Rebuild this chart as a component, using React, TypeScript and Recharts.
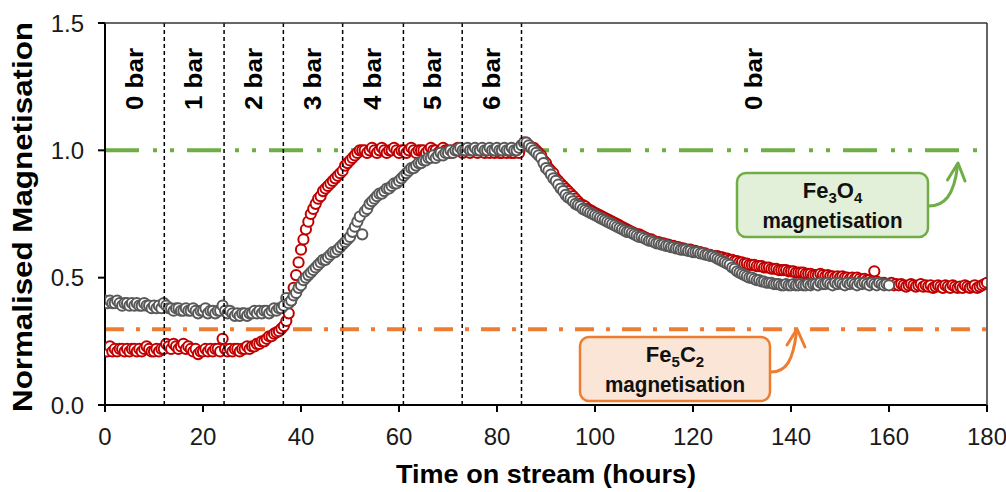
import React from 'react';
import { ScatterChart, Scatter, XAxis, YAxis, ReferenceLine, ReferenceArea } from 'recharts';

// sampling interval of the magnetisation measurements (hours)
const TIME_STEP_HOURS = 0.5;

// red series: normalised magnetisation, t = 0 .. 180 h
const RED_SERIES = [
  0.22, 0.21, 0.23, 0.21, 0.22, 0.21, 0.22, 0.22, 0.21, 0.22,
  0.21, 0.22, 0.22, 0.21, 0.22, 0.21, 0.22, 0.23, 0.22, 0.21,
  0.21, 0.22, 0.21, 0.22, 0.22, 0.24, 0.23, 0.22, 0.24, 0.23,
  0.22, 0.23, 0.24, 0.22, 0.23, 0.22, 0.21, 0.22, 0.20, 0.21,
  0.21, 0.22, 0.21, 0.22, 0.21, 0.22, 0.22, 0.21, 0.26, 0.22,
  0.21, 0.22, 0.21, 0.22, 0.22, 0.21, 0.22, 0.22, 0.23, 0.22,
  0.23, 0.23, 0.24, 0.24, 0.25, 0.25, 0.26, 0.27, 0.27, 0.28,
  0.285, 0.29, 0.30, 0.31, 0.33, 0.36, 0.41, 0.46, 0.51, 0.56,
  0.61, 0.65, 0.69, 0.72, 0.75, 0.77, 0.79, 0.81, 0.82, 0.84,
  0.85, 0.86, 0.87, 0.88, 0.89, 0.90, 0.91, 0.92, 0.94, 0.95,
  0.96, 0.97, 0.98, 0.99, 1.00, 1.00, 1.00, 0.99, 1.00, 1.01,
  1.00, 0.99, 1.00, 1.01, 1.00, 0.99, 1.00, 1.00, 1.01, 1.00,
  0.99, 1.00, 1.00, 0.99, 1.00, 1.01, 1.00, 0.99, 1.00, 1.00,
  1.00, 0.99, 1.00, 1.01, 1.00, 1.00, 0.99, 1.00, 1.01, 1.00,
  1.00, 0.99, 1.00, 1.00, 1.01, 1.00, 0.99, 1.00, 1.00, 0.99,
  1.00, 1.00, 0.99, 1.00, 1.00, 0.99, 1.00, 0.99, 1.00, 0.99,
  1.00, 0.99, 0.99, 1.00, 0.99, 1.00, 0.99, 0.99, 1.00, 0.99,
  1.02, 1.03, 1.03, 1.02, 1.01, 1.01, 1.00, 0.99, 0.98, 0.96,
  0.95, 0.93, 0.92, 0.91, 0.89, 0.88, 0.87, 0.86, 0.85, 0.84,
  0.83, 0.82, 0.81, 0.80, 0.79, 0.785, 0.78, 0.77, 0.765, 0.76,
  0.755, 0.75, 0.745, 0.74, 0.735, 0.73, 0.725, 0.72, 0.715, 0.71,
  0.705, 0.70, 0.695, 0.69, 0.685, 0.68, 0.675, 0.67, 0.67, 0.665,
  0.66, 0.655, 0.65, 0.65, 0.645, 0.64, 0.64, 0.635, 0.635, 0.63,
  0.63, 0.625, 0.625, 0.62, 0.62, 0.615, 0.615, 0.61, 0.61, 0.61,
  0.605, 0.605, 0.60, 0.60, 0.595, 0.595, 0.59, 0.59, 0.585, 0.585,
  0.585, 0.58, 0.58, 0.575, 0.575, 0.57, 0.57, 0.565, 0.565, 0.56,
  0.56, 0.555, 0.555, 0.55, 0.55, 0.55, 0.545, 0.545, 0.545, 0.54,
  0.54, 0.54, 0.535, 0.535, 0.535, 0.53, 0.53, 0.53, 0.53, 0.525,
  0.525, 0.525, 0.52, 0.52, 0.52, 0.52, 0.515, 0.515, 0.515, 0.51,
  0.51, 0.51, 0.515, 0.51, 0.505, 0.51, 0.505, 0.505, 0.50, 0.505,
  0.50, 0.505, 0.50, 0.50, 0.495, 0.50, 0.495, 0.50, 0.495, 0.49,
  0.495, 0.49, 0.49, 0.485, 0.525, 0.485, 0.48, 0.48, 0.48, 0.475,
  0.475, 0.48, 0.47, 0.475, 0.47, 0.475, 0.47, 0.465, 0.47, 0.475,
  0.47, 0.465, 0.47, 0.475, 0.465, 0.47, 0.465, 0.47, 0.46, 0.465,
  0.47, 0.465, 0.46, 0.47, 0.465, 0.46, 0.47, 0.465, 0.46, 0.465,
  0.46, 0.47, 0.465, 0.46, 0.465, 0.47, 0.46, 0.465, 0.47, 0.475,
  0.48,
];

// grey series: normalised magnetisation, t = 0 .. 160 h
const GREY_SERIES = [
  0.41, 0.40, 0.41, 0.40, 0.40, 0.41, 0.40, 0.39, 0.40, 0.40,
  0.39, 0.40, 0.39, 0.40, 0.39, 0.39, 0.40, 0.39, 0.39, 0.38,
  0.39, 0.38, 0.39, 0.38, 0.40, 0.39, 0.38, 0.38, 0.37, 0.38,
  0.38, 0.37, 0.37, 0.38, 0.37, 0.37, 0.38, 0.37, 0.36, 0.37,
  0.37, 0.38, 0.36, 0.37, 0.37, 0.36, 0.37, 0.37, 0.39, 0.37,
  0.36, 0.37, 0.36, 0.35, 0.36, 0.35, 0.36, 0.36, 0.35, 0.36,
  0.36, 0.37, 0.36, 0.37, 0.36, 0.37, 0.37, 0.36, 0.37, 0.38,
  0.37, 0.38, 0.38, 0.39, 0.42, 0.40, 0.41, 0.43, 0.44, 0.46,
  0.47, 0.49, 0.50, 0.51, 0.52, 0.53, 0.54, 0.55, 0.56, 0.57,
  0.57, 0.58, 0.59, 0.60, 0.60, 0.61, 0.62, 0.63, 0.64, 0.65,
  0.66, 0.68, 0.70, 0.72, 0.74, 0.67, 0.76, 0.77, 0.79, 0.80,
  0.81, 0.82, 0.83, 0.83, 0.84, 0.85, 0.85, 0.86, 0.87, 0.87,
  0.88, 0.89, 0.90, 0.91, 0.92, 0.93, 0.93, 0.94, 0.95, 0.95,
  0.96, 0.96, 0.97, 0.97, 0.98, 0.97, 0.98, 0.99, 0.98, 0.99,
  0.99, 1.00, 0.99, 1.00, 1.00, 1.01, 1.00, 1.00, 1.01, 1.00,
  1.00, 1.01, 1.00, 1.00, 1.01, 1.00, 1.00, 1.01, 1.00, 1.00,
  1.01, 1.00, 1.00, 1.01, 1.00, 1.00, 1.01, 1.00, 1.00, 1.01,
  1.02, 1.03, 1.03, 1.02, 1.01, 1.00, 0.99, 0.98, 0.97, 0.95,
  0.93, 0.92, 0.905, 0.89, 0.88, 0.865, 0.85, 0.84, 0.825, 0.815,
  0.81, 0.80, 0.79, 0.785, 0.78, 0.77, 0.765, 0.76, 0.755, 0.75,
  0.745, 0.74, 0.735, 0.73, 0.725, 0.72, 0.715, 0.71, 0.705, 0.70,
  0.695, 0.69, 0.685, 0.68, 0.68, 0.675, 0.67, 0.665, 0.66, 0.66,
  0.655, 0.65, 0.645, 0.645, 0.64, 0.635, 0.635, 0.63, 0.63, 0.625,
  0.625, 0.62, 0.62, 0.615, 0.615, 0.61, 0.61, 0.61, 0.605, 0.605,
  0.60, 0.60, 0.60, 0.595, 0.595, 0.59, 0.59, 0.585, 0.585, 0.58,
  0.575, 0.57, 0.565, 0.56, 0.555, 0.55, 0.54, 0.535, 0.525, 0.52,
  0.515, 0.51, 0.505, 0.50, 0.50, 0.495, 0.49, 0.49, 0.485, 0.485,
  0.48, 0.48, 0.48, 0.475, 0.475, 0.475, 0.47, 0.47, 0.475, 0.47,
  0.47, 0.475, 0.47, 0.47, 0.475, 0.47, 0.47, 0.475, 0.47, 0.475,
  0.475, 0.47, 0.48, 0.475, 0.475, 0.48, 0.475, 0.47, 0.48, 0.475,
  0.48, 0.475, 0.47, 0.48, 0.475, 0.48, 0.475, 0.47, 0.48, 0.475,
  0.48, 0.475, 0.47, 0.48, 0.475, 0.47, 0.48, 0.475, 0.47, 0.475,
  0.47,
];

// times (h) at which the pressure was changed, and the pressure of each period
const PRESSURE_CHANGES = [12.1, 24.3, 36.4, 48.5, 60.9, 72.9, 85.0];
const PRESSURE_LABELS = ['0 bar', '1 bar', '2 bar', '3 bar', '4 bar', '5 bar', '6 bar', '0 bar'];

const X_TICKS = [0, 20, 40, 60, 80, 100, 120, 140, 160, 180];
const Y_TICKS = [0, 0.5, 1.0, 1.5];
const X_MAX = 180;
const Y_MAX = 1.5;

// reference magnetisation levels
const FE3O4_LEVEL = 1.0;
const FE5C2_LEVEL = 0.297;

const redData = RED_SERIES.map((v, i) => ({ t: i * TIME_STEP_HOURS, v }));
const greyData = GREY_SERIES.map((v, i) => ({ t: i * TIME_STEP_HOURS, v }));
const bounds = [0, ...PRESSURE_CHANGES, X_MAX];
const periods = PRESSURE_LABELS.map((label, i) => ({ label, x1: bounds[i], x2: bounds[i + 1] }));

const FONT = '"Liberation Sans", Arial, Helvetica, sans-serif';
const RED = '#c00000';
const GREY = '#595959';
const GREEN = '#70ad47';
const ORANGE = '#ed7d31';

const marker = (color: string) => (props: any) => (
  <circle cx={props.cx} cy={props.cy} r={5.1} fill="#ffffff" stroke={color} strokeWidth={2} />
);

const periodLabel = (text: string) => (props: any) => {
  const vb = props.viewBox || props;
  const cx = vb.x + vb.width / 2;
  const cy = vb.y + 56;
  return (
    <text
      x={cx}
      y={cy}
      transform={`rotate(-90 ${cx} ${cy})`}
      textAnchor="middle"
      dominantBaseline="central"
      fontFamily={FONT}
      fontWeight="bold"
      fontSize={23}
      fill="#000"
      textLength={62}
      lengthAdjust="spacingAndGlyphs"
    >
      {text}
    </text>
  );
};

const yTitle = (props: any) => {
  const vb = props.viewBox || { x: 0, y: 23, width: 105, height: 382 };
  const x = vb.x + 32;
  const y = vb.y + vb.height / 2 + 3;
  return (
    <text
      x={x}
      y={y}
      transform={`rotate(-90 ${x} ${y})`}
      textAnchor="middle"
      fontFamily={FONT}
      fontWeight="bold"
      fontSize={27}
      fill="#000"
      textLength={390}
      lengthAdjust="spacingAndGlyphs"
    >
      Normalised Magnetisation
    </text>
  );
};

const xTitle = (props: any) => {
  const vb = props.viewBox || { x: 105, y: 405, width: 882, height: 87 };
  const x = vb.x + vb.width / 2;
  const y = vb.y + 78;
  return (
    <text
      x={x}
      y={y}
      textAnchor="middle"
      fontFamily={FONT}
      fontWeight="bold"
      fontSize={26}
      fill="#000"
      textLength={300}
      lengthAdjust="spacingAndGlyphs"
    >
      Time on stream (hours)
    </text>
  );
};

const Annotation = ({
  x, y, w, h, fill, stroke, main, sub1, mid, sub2, arrow, head,
}: any) => {
  const cx = x + w / 2;
  return (
    <g>
      <rect x={x} y={y} width={w} height={h} rx={9} ry={9} fill={fill} stroke={stroke} strokeWidth={2.5} />
      <text x={cx} y={y + 25} textAnchor="middle" fontFamily={FONT} fontWeight="bold" fontSize={22} fill="#111">
        {main}
        <tspan dy={5} fontSize={15}>{sub1}</tspan>
        <tspan dy={-5}>{mid}</tspan>
        <tspan dy={5} fontSize={15}>{sub2}</tspan>
      </text>
      <text
        x={cx}
        y={y + 55}
        textAnchor="middle"
        fontFamily={FONT}
        fontWeight="bold"
        fontSize={22}
        fill="#111"
        textLength={140}
        lengthAdjust="spacingAndGlyphs"
      >
        magnetisation
      </text>
      <path d={arrow} fill="none" stroke={stroke} strokeWidth={3} strokeLinecap="round" />
      <path d={head} fill="none" stroke={stroke} strokeWidth={3} strokeLinecap="round" strokeLinejoin="round" />
    </g>
  );
};

export default function App() {
  return (
    <div style={{ position: 'absolute', left: 0, top: 0, width: 1006, height: 492, fontFamily: FONT, background: '#fff' }}>
      <ScatterChart width={1006} height={492} margin={{ top: 23, right: 19, bottom: 0, left: 0 }}>
        <XAxis
          type="number"
          dataKey="t"
          domain={[0, X_MAX]}
          ticks={X_TICKS}
          interval={0}
          height={87}
          tickSize={7}
          tickMargin={16}
          axisLine={{ stroke: '#000', strokeWidth: 2 }}
          tickLine={{ stroke: '#000', strokeWidth: 2 }}
          tick={{ fill: '#1a1a1a', fontSize: 24, fontFamily: FONT }}
          allowDataOverflow
          label={xTitle}
        />
        <YAxis
          type="number"
          dataKey="v"
          domain={[0, Y_MAX]}
          ticks={Y_TICKS}
          interval={0}
          width={105}
          tickSize={7}
          tickMargin={14}
          tickFormatter={(v: number) => v.toFixed(1)}
          axisLine={{ stroke: '#000', strokeWidth: 2 }}
          tickLine={{ stroke: '#000', strokeWidth: 2 }}
          tick={{ fill: '#1a1a1a', fontSize: 24, fontFamily: FONT }}
          allowDataOverflow
          label={yTitle}
        />
        <ReferenceLine y={FE3O4_LEVEL} stroke={GREEN} strokeWidth={4} strokeDasharray="34 14 4 13 4 13" zIndex={0} />
        <ReferenceLine y={FE5C2_LEVEL} stroke={ORANGE} strokeWidth={4} strokeDasharray="19 12 4 12" zIndex={0} />
        <Scatter data={redData} shape={marker(RED)} isAnimationActive={false} zIndex={600} />
        <Scatter data={greyData} shape={marker(GREY)} isAnimationActive={false} zIndex={601} />
        {PRESSURE_CHANGES.map((x) => (
          <ReferenceLine key={x} x={x} stroke="#000" strokeWidth={1.5} strokeDasharray="4 3" zIndex={1000} />
        ))}
        {periods.map((p, i) => (
          <ReferenceArea
            key={i}
            x1={p.x1}
            x2={p.x2}
            y1={0}
            y2={Y_MAX}
            fill="none"
            fillOpacity={0}
            stroke="none"
            label={periodLabel(p.label)}
            zIndex={1001}
          />
        ))}
        <ReferenceLine y={Y_MAX} stroke="#333" strokeWidth={1.5} zIndex={1002} />
        <ReferenceLine x={X_MAX} stroke="#333" strokeWidth={1.5} zIndex={1002} />
      </ScatterChart>
      <svg width={1006} height={492} style={{ position: 'absolute', left: 0, top: 0, pointerEvents: 'none' }}>
        <Annotation
          x={737}
          y={173}
          w={191}
          h={64}
          fill="#e2efd9"
          stroke={GREEN}
          main="Fe"
          sub1="3"
          mid="O"
          sub2="4"
          arrow="M929,206 C944,206 954,196 957.5,166"
          head="M947.5,180 L958,163 L965,181"
        />
        <Annotation
          x={580}
          y={337}
          w={190}
          h={64}
          fill="#fbe5d6"
          stroke={ORANGE}
          main="Fe"
          sub1="5"
          mid="C"
          sub2="2"
          arrow="M771,372 C786,372 793,361 796.5,332"
          head="M787,345 L797,329 L805,347"
        />
      </svg>
    </div>
  );
}
